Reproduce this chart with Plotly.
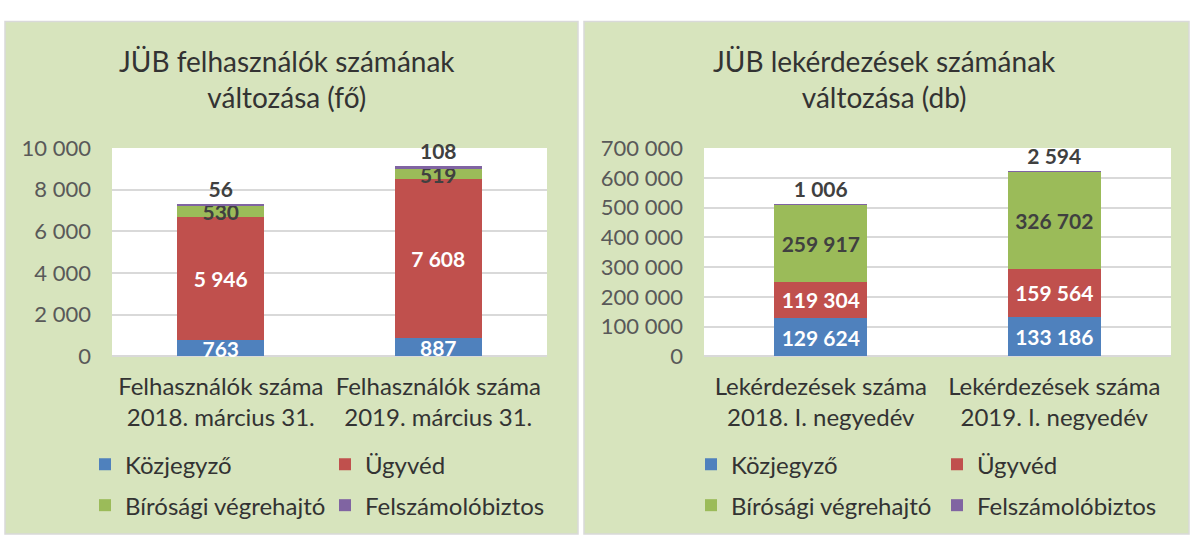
import plotly.graph_objects as go

W, H = 1193, 549

series_names = ['Közjegyző', 'Ügyvéd', 'Bírósági végrehajtó', 'Felszámolóbiztos']
series_colors = ['#4F81BD', '#C0504D', '#9BBB59', '#8064A2']
label_colors = ['white', 'white', '#404040', '#404040']

# left chart: users (fő)
users_cats = ['Felhasználók száma<br>2018. március 31.',
              'Felhasználók száma<br>2019. március 31.']
users_kozjegyzo = [763, 887]
users_ugyved = [5946, 7608]
users_birosagi = [530, 519]
users_felszamolo = [56, 108]

# right chart: queries (db)
query_cats = ['Lekérdezések száma<br>2018. I. negyedév',
              'Lekérdezések száma<br>2019. I. negyedév']
query_kozjegyzo = [129624, 133186]
query_ugyved = [119304, 159564]
query_birosagi = [259917, 326702]
query_felszamolo = [1006, 2594]

FONT = 'Lato'


def px_x(p):
    return p / W


def px_y(p):
    return 1 - p / H


def fmt(v):
    return f'{v:,}'.replace(',', ' ')


fig = go.Figure()

charts = [
    ('x', 'y', users_cats,
     [users_kozjegyzo, users_ugyved, users_birosagi, users_felszamolo],
     ['legend', 'legend', 'legend2', 'legend2']),
    ('x2', 'y2', query_cats,
     [query_kozjegyzo, query_ugyved, query_birosagi, query_felszamolo],
     ['legend3', 'legend3', 'legend4', 'legend4']),
]

for xa, ya, cats, values, legends in charts:
    for i, vals in enumerate(values):
        last = i == len(values) - 1
        fig.add_trace(go.Bar(
            x=cats, y=vals, name=series_names[i],
            xaxis=xa, yaxis=ya, legend=legends[i],
            marker_color=series_colors[i], marker_line_width=0,
            width=0.4,
            text=[fmt(v) for v in vals],
            textposition='outside' if last else 'inside',
            insidetextanchor='middle',
            textangle=0,
            constraintext='none',
            cliponaxis=False,
            textfont=dict(family=FONT, size=21, color=label_colors[i],
                          weight='bold'),
            hoverinfo='skip',
        ))

# plot area positions (px)
left_plot = (112, 547)
right_plot = (704, 1171)
plot_top, plot_bottom = 141, 360

axis_common = dict(showgrid=False, zeroline=False, showline=False, ticks='',
                   tickfont=dict(family=FONT, size=24, color='#333333'),
                   ticklabelstandoff=14, fixedrange=True)
yaxis_common = dict(showgrid=True, gridcolor='#D9D9D9', gridwidth=1.5,
                    zeroline=True, zerolinecolor='#D9D9D9', zerolinewidth=1.5,
                    ticks='', tickformat=',d',
                    tickfont=dict(family=FONT, size=22, color='#595959'),
                    ticklabelstandoff=20, fixedrange=True)

fig.update_layout(
    xaxis=dict(domain=[px_x(left_plot[0]), px_x(left_plot[1])], anchor='y',
               **axis_common),
    yaxis=dict(domain=[px_y(plot_bottom), px_y(plot_top)], anchor='x',
               range=[0, 10000], dtick=2000, **yaxis_common),
    xaxis2=dict(domain=[px_x(right_plot[0]), px_x(right_plot[1])], anchor='y2',
                **axis_common),
    yaxis2=dict(domain=[px_y(plot_bottom), px_y(plot_top)], anchor='x2',
                range=[0, 700000], dtick=100000, **yaxis_common),
)

# panel backgrounds and white plot areas
shapes = []
for x0, x1 in [(5, 578), (584, 1189)]:
    shapes.append(dict(type='rect', xref='paper', yref='paper',
                       x0=px_x(x0), x1=px_x(x1), y0=px_y(547), y1=px_y(8),
                       fillcolor='#D7E4BD', line=dict(color='#D9D9D9', width=1.5),
                       layer='below'))
for xa, ya in [('x', 'y'), ('x2', 'y2')]:
    shapes.append(dict(type='rect', xref=f'{xa} domain', yref=f'{ya} domain',
                       x0=0, x1=1, y0=0, y1=1, fillcolor='white',
                       line=dict(width=0), layer='below'))

titles = [
    ('JÜB felhasználók számának<br>változása (fő)', 287),
    ('JÜB lekérdezések számának<br>változása (db)', 884),
]
annotations = []
for text, cx in titles:
    annotations.append(dict(text=text, x=px_x(cx), y=px_y(68), xref='paper',
                            yref='paper', showarrow=False, xanchor='center',
                            yanchor='middle',
                            font=dict(family=FONT, size=28, color='#333333')))

legend_common = dict(orientation='h', xanchor='left', yanchor='middle',
                     traceorder='normal',
                     bgcolor='rgba(0,0,0,0)',
                     font=dict(family=FONT, size=24, color='#333333'),
                     itemclick=False, itemdoubleclick=False)

fig.update_layout(
    width=W, height=H, autosize=False,
    margin=dict(l=0, r=0, t=0, b=0, pad=0),
    paper_bgcolor='white', plot_bgcolor='white',
    barmode='stack', separators=', ',
    shapes=shapes, annotations=annotations,
    showlegend=True,
    legend=dict(x=px_x(85), y=px_y(474), entrywidth=195, **legend_common),
    legend2=dict(x=px_x(85), y=px_y(517), entrywidth=195, **legend_common),
    legend3=dict(x=px_x(691), y=px_y(474), entrywidth=201, **legend_common),
    legend4=dict(x=px_x(691), y=px_y(517), entrywidth=201, **legend_common),
)

fig.write_html('out.html', config={'displayModeBar': False},
               post_script="document.body.style.margin='0px';")
